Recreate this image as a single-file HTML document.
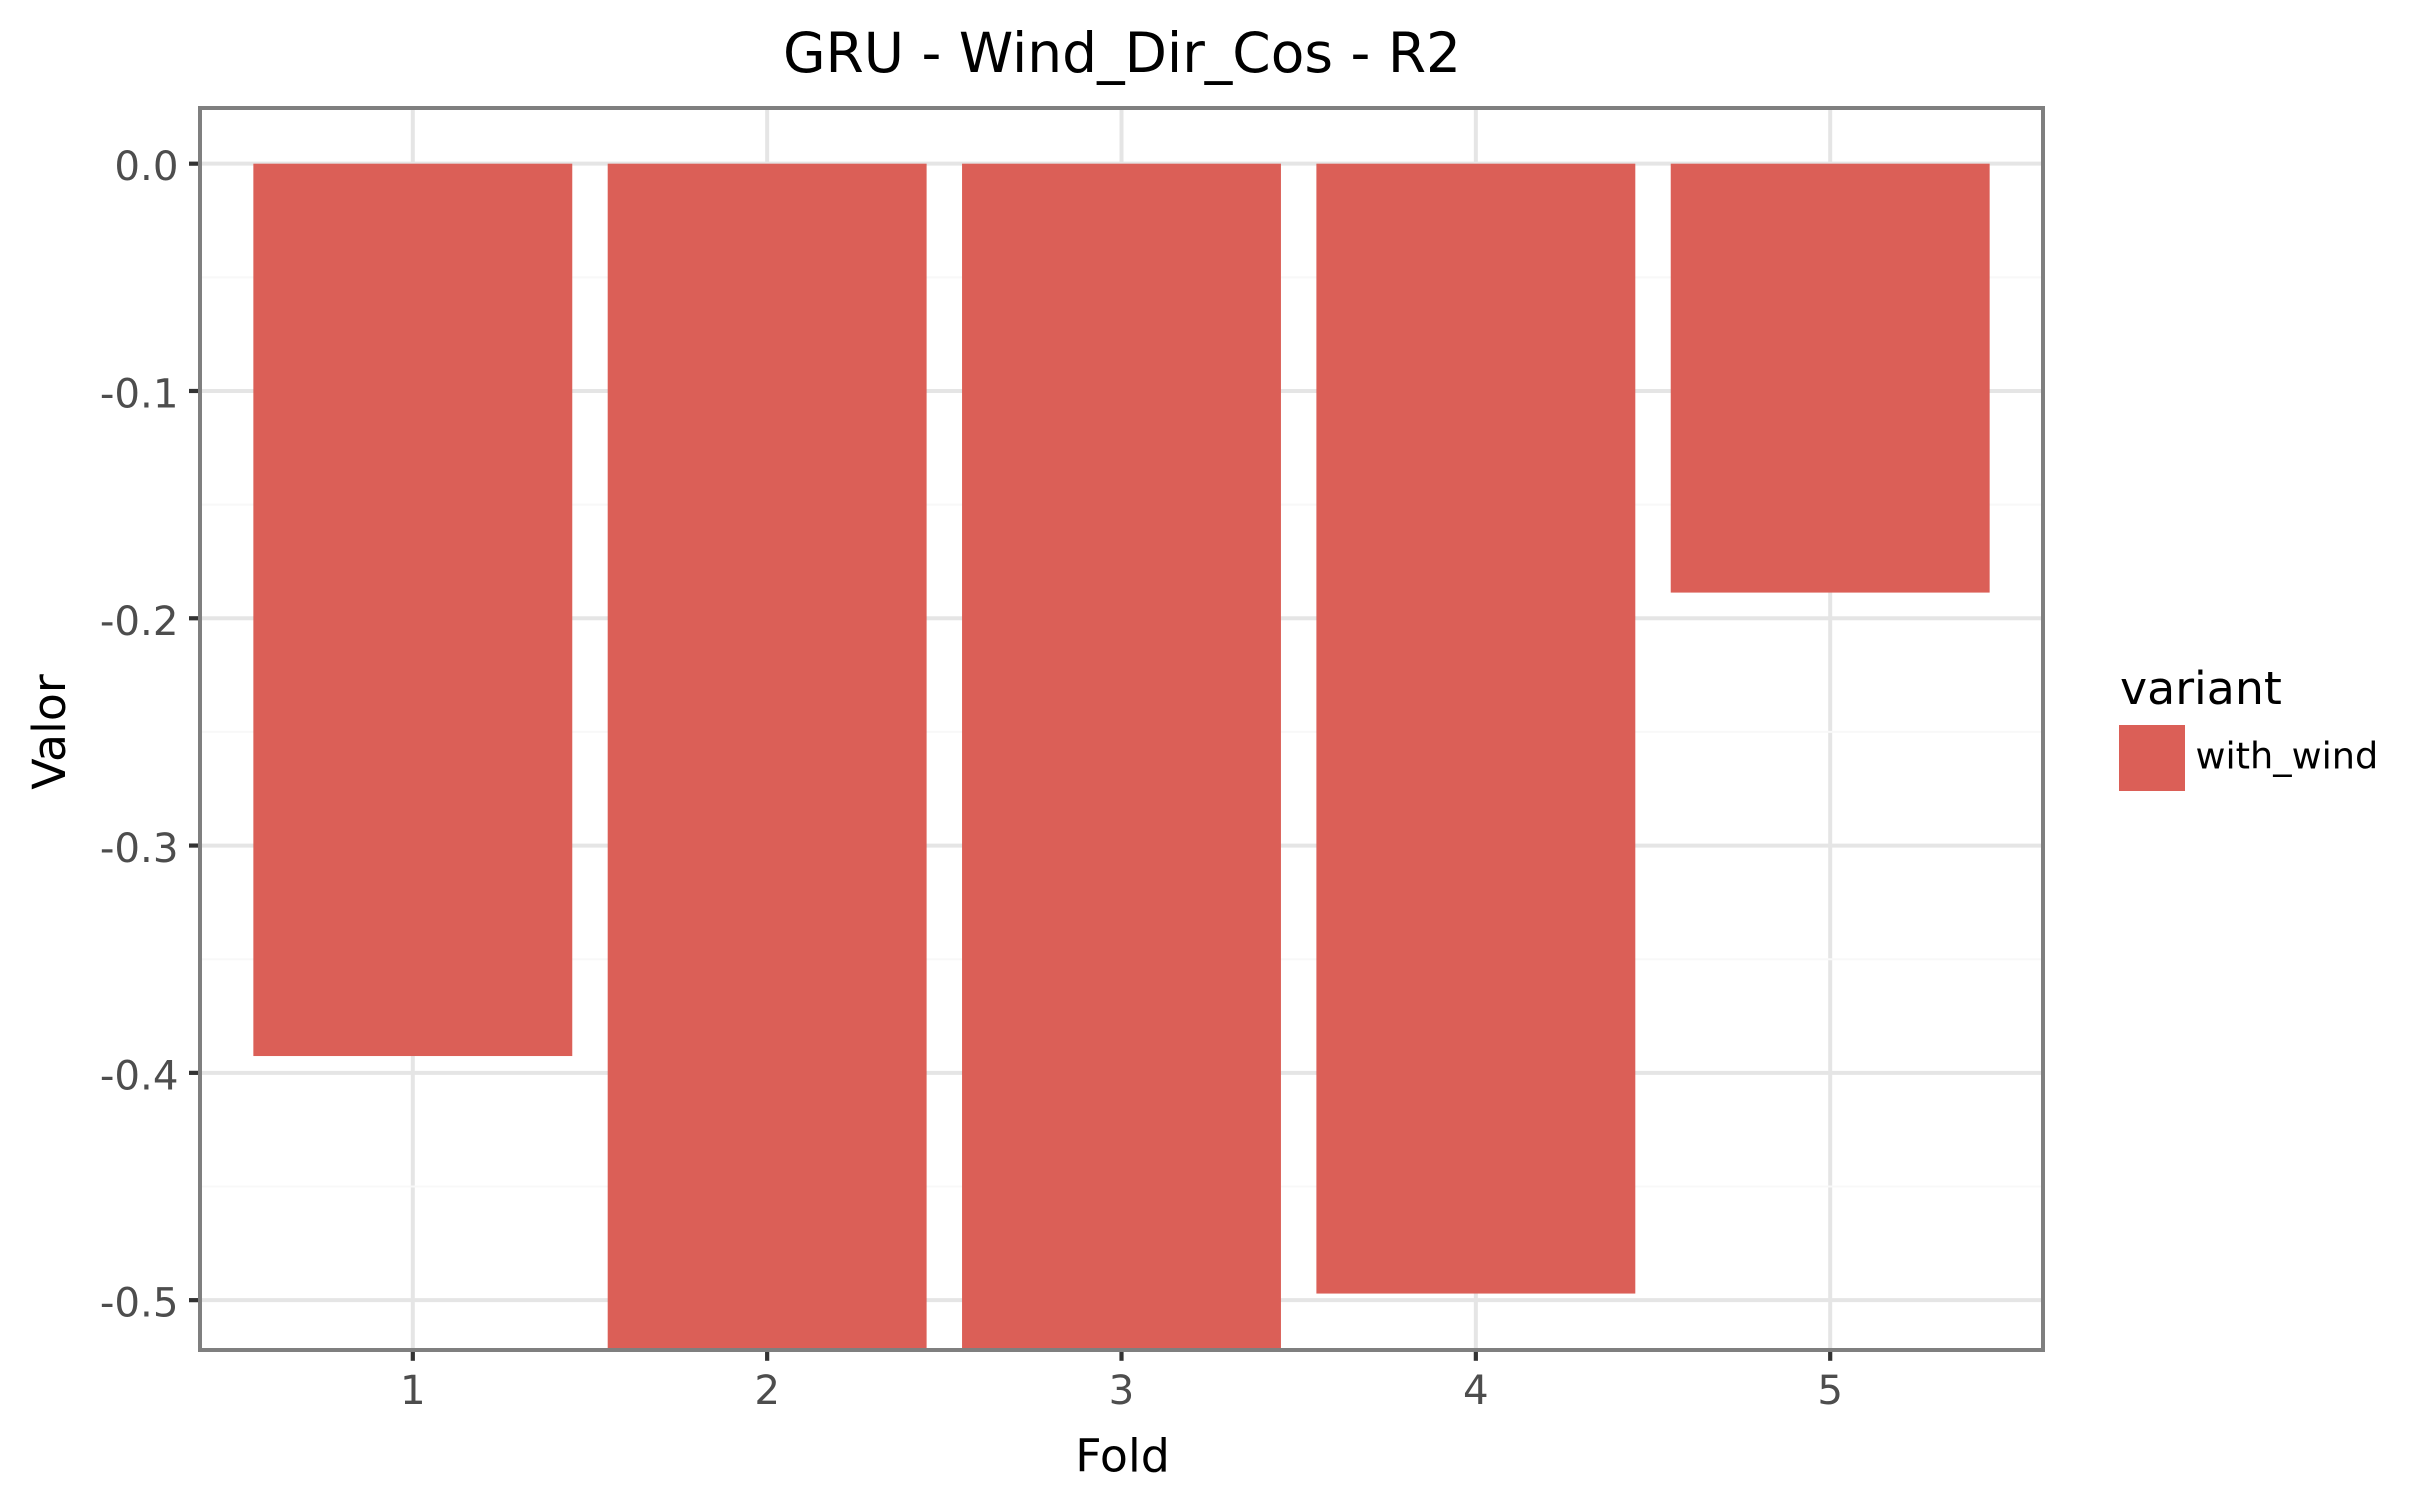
<!DOCTYPE html>
<html lang="en">
<head>
<meta charset="utf-8">
<title>GRU - Wind_Dir_Cos - R2</title>
<style>
  html, body { margin: 0; padding: 0; background: #ffffff; }
  svg { display: block; }
  text { font-family: "DejaVu Sans", "Liberation Sans", sans-serif; }
</style>
</head>
<body>
<svg id="chart" xmlns="http://www.w3.org/2000/svg" width="2411" height="1511" viewBox="0 0 2411 1511">
  <rect x="0" y="0" width="2411" height="1511" fill="#ffffff"/>
  <text x="1122" y="72" font-size="55" text-anchor="middle" fill="#000000">GRU - Wind_Dir_Cos - R2</text>
  <text x="1122.5" y="1471.5" font-size="45.83" text-anchor="middle" fill="#000000">Fold</text>
  <text transform="translate(65 732) rotate(-90)" x="0" y="0" font-size="45.83" text-anchor="middle" fill="#000000">Valor</text>
  <text x="2120" y="704" font-size="45.83" fill="#000000">variant</text>
  <rect x="2119" y="725" width="66" height="66" fill="#db5f57"/>
  <text x="2195.5" y="768.5" font-size="36.67" fill="#000000">with_wind</text>
  <defs>
    <clipPath id="panel-clip"><rect x="200" y="108" width="1843" height="1242"/></clipPath>
  </defs>
  <g id="grid" clip-path="url(#panel-clip)"></g>
  <g id="bars" clip-path="url(#panel-clip)"></g>
  <g id="axes"></g>
  <rect x="200" y="108" width="1843" height="1242" fill="none" stroke="#7f7f7f" stroke-width="4"/>
</svg>
<script>
const foldCategories = [1, 2, 3, 4, 5];
const seriesValues = [-0.3926, -0.56, -0.56, -0.4971, -0.1887];
const yTickValues = [0, -0.1, -0.2, -0.3, -0.4, -0.5];
const yTickLabels = ['0.0', '-0.1', '-0.2', '-0.3', '-0.4', '-0.5'];
const yMinorValues = [-0.05, -0.15, -0.25, -0.35, -0.45];
const xTickLabels = ['1', '2', '3', '4', '5'];

const plotLeft = 200.2;
const plotRight = 2042.8;
const plotTop = 108;
const plotBottom = 1349.7;
const xDomainMin = 0.4;
const xDomainMax = 5.6;
const yDomainMax = 0.0245;
const yDomainMin = -0.5218;
const barWidthUnits = 0.9;
const tickFontSize = 40.33;
const SVG_NS = 'http://www.w3.org/2000/svg';

function xScale(v) {
  return plotLeft + (v - xDomainMin) / (xDomainMax - xDomainMin) * (plotRight - plotLeft);
}
function yScale(v) {
  return plotTop + (yDomainMax - v) / (yDomainMax - yDomainMin) * (plotBottom - plotTop);
}
function make(tag, parent, attrs) {
  const el = document.createElementNS(SVG_NS, tag);
  for (const key in attrs) {
    el.setAttribute(key, attrs[key]);
  }
  parent.appendChild(el);
  return el;
}

const grid = document.getElementById('grid');
const bars = document.getElementById('bars');
const axes = document.getElementById('axes');

foldCategories.forEach(function (fold) {
  const line = make('line', grid, { x1: xScale(fold), x2: xScale(fold), y1: plotTop, y2: plotBottom, stroke: '#e5e5e5', 'stroke-width': 4 });
  
  
});
yTickValues.forEach(function (v) {
  const line = make('line', grid, { x1: plotLeft, x2: plotRight, y1: yScale(v), y2: yScale(v), stroke: '#e5e5e5', 'stroke-width': 4 });
  
  
});
yMinorValues.forEach(function (v) {
  const line = make('line', grid, { x1: plotLeft, x2: plotRight, y1: yScale(v), y2: yScale(v), stroke: '#f8f8f8', 'stroke-width': 2 });
  
  
});

foldCategories.forEach(function (fold, i) {
  const left = xScale(fold - barWidthUnits / 2);
  const right = xScale(fold + barWidthUnits / 2);
  const top = yScale(0);
  const bottom = yScale(seriesValues[i]);
  const bar = make('rect', bars, { x: left, y: top, width: right - left, height: bottom - top, fill: '#db5f57' });
  
  
});

yTickValues.forEach(function (v, i) {
  const y = yScale(v);
  const tick = make('line', axes, { x1: 189, x2: 198.2, y1: y, y2: y, stroke: '#333333', 'stroke-width': 4.2 });
  
  
  const label = make('text', axes, { x: 178.5, y: y + 16.5, 'font-size': tickFontSize, 'text-anchor': 'end', fill: '#4d4d4d' });
  
  
  label.textContent = yTickLabels[i];
});
foldCategories.forEach(function (fold, i) {
  const x = xScale(fold);
  const tick = make('line', axes, { x1: x, x2: x, y1: 1351.7, y2: 1360.8, stroke: '#333333', 'stroke-width': 4.2 });
  
  
  const label = make('text', axes, { x: x, y: 1404, 'font-size': tickFontSize, 'text-anchor': 'middle', fill: '#4d4d4d' });
  
  
  label.textContent = xTickLabels[i];
});
</script>
</body>
</html>
